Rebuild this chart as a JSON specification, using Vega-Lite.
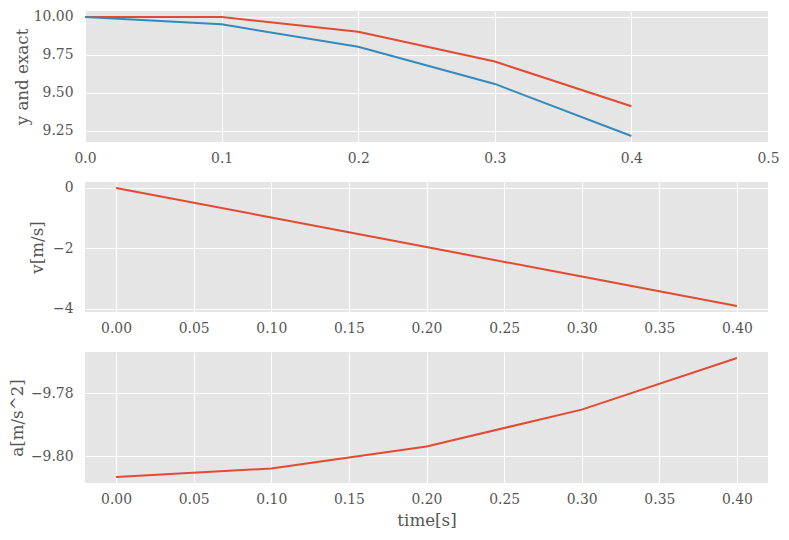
{
  "$schema": "https://vega.github.io/schema/vega-lite/v6.json",
  "background": "white",
  "padding": {"left": 9, "top": 9, "right": 5, "bottom": 5},
  "bounds": "flush",
  "spacing": 40,
  "datasets": {
    "motion": [
      {"t": 0.0, "y": 10.0, "exact": 10.0, "v": 0.0, "a": -9.8066},
      {"t": 0.1, "y": 10.0, "exact": 9.951, "v": -0.9807, "a": -9.8039},
      {"t": 0.2, "y": 9.9019, "exact": 9.8038, "v": -1.9611, "a": -9.7969},
      {"t": 0.3, "y": 9.7058, "exact": 9.5586, "v": -2.9408, "a": -9.7852},
      {"t": 0.4, "y": 9.4115, "exact": 9.2153, "v": -3.9194, "a": -9.7688}
    ]
  },
  "config": {
    "font": "DejaVu Serif",
    "view": {"fill": "#E5E5E5", "stroke": null},
    "axis": {
      "domain": false,
      "ticks": false,
      "grid": true,
      "gridColor": "white",
      "gridWidth": 1.1,
      "labelFont": "DejaVu Serif",
      "labelFontSize": 13.9,
      "labelColor": "#555555",
      "titleFont": "DejaVu Serif",
      "titleFontSize": 16.7,
      "titleFontWeight": "normal",
      "titleColor": "#555555"
    },
    "axisX": {"labelPadding": 9.5, "titlePadding": 6, "labelFlush": false},
    "axisY": {"labelPadding": 12, "titlePadding": 4}
  },
  "vconcat": [
    {
      "width": 683,
      "height": 131,
      "data": {"name": "motion"},
      "layer": [
        {
          "mark": {"type": "line", "color": "#E24A33", "strokeWidth": 2},
          "encoding": {
            "x": {"field": "t", "type": "quantitative", "scale": {"domain": [0, 0.5], "nice": false, "zero": false},
                  "axis": {"title": null, "values": [0, 0.1, 0.2, 0.3, 0.4, 0.5], "format": ".1f"}},
            "y": {"field": "y", "type": "quantitative", "scale": {"domain": [9.176, 10.039], "nice": false, "zero": false},
                  "axis": {"title": "y and exact", "values": [9.25, 9.5, 9.75, 10.0], "format": ".2f", "titlePadding": 2}}
          }
        },
        {
          "mark": {"type": "line", "color": "#348ABD", "strokeWidth": 2},
          "encoding": {
            "x": {"field": "t", "type": "quantitative"},
            "y": {"field": "exact", "type": "quantitative"}
          }
        }
      ]
    },
    {
      "width": 683,
      "height": 130,
      "data": {"name": "motion"},
      "mark": {"type": "line", "color": "#E24A33", "strokeWidth": 2},
      "encoding": {
        "x": {"field": "t", "type": "quantitative", "scale": {"domain": [-0.02, 0.42], "nice": false, "zero": false},
              "axis": {"title": null, "values": [0, 0.05, 0.1, 0.15, 0.2, 0.25, 0.3, 0.35, 0.4], "format": ".2f"}},
        "y": {"field": "v", "type": "quantitative", "scale": {"domain": [-4.115, 0.196], "nice": false, "zero": false},
              "axis": {"title": "v[m/s]", "values": [-4, -2, 0], "format": "d", "titlePadding": 6}}
      }
    },
    {
      "width": 683,
      "height": 131,
      "data": {"name": "motion"},
      "mark": {"type": "line", "color": "#E24A33", "strokeWidth": 2},
      "encoding": {
        "x": {"field": "t", "type": "quantitative", "scale": {"domain": [-0.02, 0.42], "nice": false, "zero": false},
              "axis": {"title": "time[s]", "values": [0, 0.05, 0.1, 0.15, 0.2, 0.25, 0.3, 0.35, 0.4], "format": ".2f"}},
        "y": {"field": "a", "type": "quantitative", "scale": {"domain": [-9.8085, -9.7669], "nice": false, "zero": false},
              "axis": {"title": "a[m/s^2]", "values": [-9.80, -9.78], "format": ".2f", "titlePadding": 4}}
      }
    }
  ]
}
